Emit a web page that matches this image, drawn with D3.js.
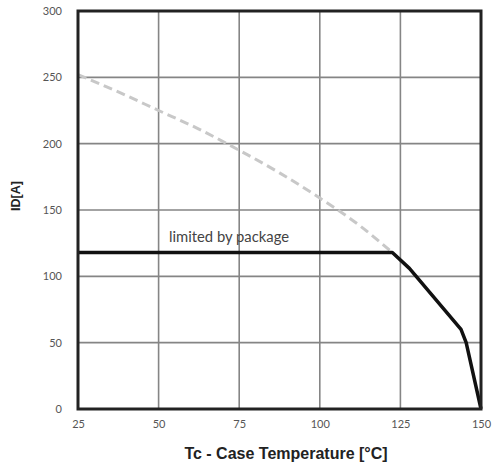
<!DOCTYPE html>
<html>
<head>
<meta charset="utf-8">
<script src="https://cdn.jsdelivr.net/npm/d3@7"></script>
<style>
  html, body { margin: 0; padding: 0; background: #fff; }
  svg { display: block; }
</style>
</head>
<body>
<svg id="chart" width="493" height="468"></svg>
<script>
// Case temperature ticks (°C) and drain current ticks (A)
const xTicks = [25, 50, 75, 100, 125, 150];
const yTicks = [0, 50, 100, 150, 200, 250, 300];

// Silicon limit (dashed) — current vs case temperature
const siliconTemp    = [25, 37.5, 50, 62.5, 75, 87.5, 100, 112.5, 122.5];
const siliconCurrent = [252, 239, 225, 211, 195, 178, 159, 138, 118];

// Package-limited derating curve (solid)
const packageTemp    = [25, 122.5, 127.8, 143.8, 145.4, 150];
const packageCurrent = [118, 118, 106, 60, 50, 0];

const svg = d3.select("#chart");
const margin = { left: 78, right: 12, top: 11, bottom: 59 };
const W = 493, H = 468;

const x = d3.scaleLinear().domain([25, 150]).range([margin.left, W - margin.right]);
const y = d3.scaleLinear().domain([0, 300]).range([H - margin.bottom, margin.top]);

// grid
const grid = svg.append("g");
grid.selectAll("line.v").data(xTicks.slice(1, -1)).join("line")
  .attr("x1", d => x(d)).attr("x2", d => x(d))
  .attr("y1", y(300)).attr("y2", y(0))
  .attr("stroke", "#858585").attr("stroke-width", 1.6);
grid.selectAll("line.h").data(yTicks.slice(1, -1)).join("line")
  .attr("x1", x(25)).attr("x2", x(150))
  .attr("y1", d => y(d)).attr("y2", d => y(d))
  .attr("stroke", "#858585").attr("stroke-width", 1.6);

// axes (labels only, frame drawn separately)
const xAxis = svg.append("g")
  .attr("transform", `translate(0,${y(0)})`)
  .call(d3.axisBottom(x).tickValues(xTicks).tickSize(0).tickPadding(11));
const yAxis = svg.append("g")
  .attr("transform", `translate(${x(25)},0)`)
  .call(d3.axisLeft(y).tickValues(yTicks).tickSize(0).tickPadding(16));
[xAxis, yAxis].forEach(a => {
  a.select(".domain").remove();
  a.selectAll("text")
    .attr("fill", "#555")
    .style("font-family", "Lato, 'Open Sans', sans-serif")
    .style("font-size", "11px");
});

// silicon limit, dashed
const line = d3.line().x(d => x(d[0])).y(d => y(d[1])).curve(d3.curveMonotoneX);
svg.append("path")
  .datum(siliconTemp.map((t, i) => [t, siliconCurrent[i]]))
  .attr("d", line)
  .attr("fill", "none")
  .attr("stroke", "#c8c8c8")
  .attr("stroke-width", 3)
  .attr("stroke-dasharray", "9,5");

// package-limited curve
const lineLin = d3.line().x(d => x(d[0])).y(d => y(d[1]));
svg.append("path")
  .datum(packageTemp.map((t, i) => [t, packageCurrent[i]]))
  .attr("d", lineLin)
  .attr("fill", "none")
  .attr("stroke", "#111")
  .attr("stroke-width", 3.5)
  .attr("stroke-linejoin", "round");

// frame
svg.append("rect")
  .attr("x", x(25)).attr("y", y(300))
  .attr("width", x(150) - x(25)).attr("height", y(0) - y(300))
  .attr("fill", "none").attr("stroke", "#222").attr("stroke-width", 3);

// annotation
svg.append("text")
  .attr("x", 169).attr("y", y(126))
  .attr("fill", "#444")
  .style("font-family", "Lato, 'Open Sans', sans-serif")
  .style("font-size", "14.8px")
  .text("limited by package");

// axis titles
svg.append("text")
  .attr("x", 286).attr("y", 459)
  .attr("text-anchor", "middle")
  .attr("fill", "#222")
  .style("font-family", "'Liberation Sans', Arial, sans-serif")
  .style("font-weight", "bold")
  .style("font-size", "16px")
  .text("Tc - Case Temperature [\u00B0C]");

svg.append("text")
  .attr("transform", `translate(20,196) rotate(-90)`)
  .attr("text-anchor", "middle")
  .attr("fill", "#222")
  .style("font-family", "'Liberation Sans', Arial, sans-serif")
  .style("font-weight", "bold")
  .style("font-size", "12.5px")
  .text("ID[A]");
</script>
</body>
</html>
